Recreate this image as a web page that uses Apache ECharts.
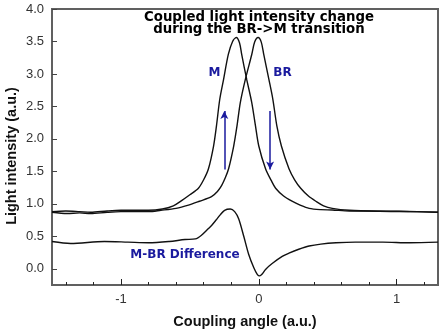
<!DOCTYPE html>
<html>
<head>
<meta charset="utf-8">
<script src="https://cdn.jsdelivr.net/npm/echarts@6/dist/echarts.min.js"></script>
<style>
  html, body { margin: 0; padding: 0; background: #fff; }
  #chart { width: 443px; height: 334px; }
</style>
</head>
<body>
<div id="chart"></div>
<script>
// Coupling curve of the M state (angle, light intensity)
const mAngle = [-1.5, -1.4, -1.3, -1.22, -1.1, -1.0, -0.9, -0.8, -0.7, -0.62, -0.56, -0.5, -0.438, -0.4, -0.365, -0.328, -0.307, -0.283, -0.255, -0.221, -0.19, -0.163, -0.14, -0.124, -0.088, -0.051, -0.024, 0.0, 0.049, 0.09, 0.122, 0.18, 0.241, 0.3, 0.365, 0.45, 0.533, 0.657, 0.8, 1.02, 1.15, 1.3];
const mIntensity = [0.88, 0.89, 0.88, 0.87, 0.89, 0.9, 0.9, 0.9, 0.92, 0.97, 1.05, 1.14, 1.24, 1.37, 1.54, 1.89, 2.2, 2.61, 2.92, 3.3, 3.5, 3.56, 3.48, 3.3, 2.92, 2.56, 2.2, 1.89, 1.54, 1.36, 1.24, 1.12, 1.04, 0.98, 0.93, 0.91, 0.905, 0.89, 0.89, 0.885, 0.88, 0.87];

// Coupling curve of the BR state
const brAngle = [-1.5, -1.39, -1.3, -1.22, -1.1, -1.0, -0.9, -0.8, -0.71, -0.6, -0.51, -0.43, -0.343, -0.3, -0.27, -0.243, -0.219, -0.182, -0.158, -0.134, -0.097, -0.051, -0.03, -0.005, 0.018, 0.036, 0.073, 0.102, 0.131, 0.164, 0.219, 0.26, 0.304, 0.36, 0.414, 0.47, 0.533, 0.657, 0.876, 1.1, 1.3];
const brIntensity = [0.87, 0.85, 0.86, 0.85, 0.87, 0.88, 0.88, 0.88, 0.9, 0.93, 0.98, 1.04, 1.11, 1.19, 1.28, 1.4, 1.54, 1.89, 2.2, 2.56, 2.92, 3.3, 3.49, 3.56, 3.49, 3.3, 2.92, 2.61, 2.2, 1.89, 1.54, 1.37, 1.24, 1.12, 1.04, 0.97, 0.93, 0.9, 0.885, 0.88, 0.87];

// M-BR difference trace (offset)
const diffAngle = [-1.5, -1.365, -1.12, -0.95, -0.8, -0.65, -0.535, -0.46, -0.414, -0.365, -0.341, -0.31, -0.28, -0.248, -0.207, -0.175, -0.146, -0.109, -0.073, -0.036, -0.01, 0.007, 0.025, 0.049, 0.097, 0.17, 0.219, 0.29, 0.365, 0.45, 0.56, 0.7, 0.9, 1.095, 1.3];
const diffValue = [0.42, 0.39, 0.42, 0.41, 0.4, 0.42, 0.45, 0.46, 0.52, 0.62, 0.67, 0.75, 0.83, 0.9, 0.92, 0.88, 0.77, 0.5, 0.22, 0.015, -0.09, -0.11, -0.08, -0.01, 0.08, 0.19, 0.24, 0.3, 0.35, 0.38, 0.4, 0.41, 0.41, 0.4, 0.41];

// Arrows showing the change direction [angle, intensity] start -> end
const arrowUp = [[-0.25, 1.53], [-0.25, 2.43]];
const arrowDown = [[0.082, 2.43], [0.082, 1.53]];

// Axis ticks
const xMajorTicks = [-1, 0, 1];
const xMinorTicks = [-1.4, -1.2, -0.8, -0.6, -0.4, -0.2, 0.2, 0.4, 0.6, 0.8, 1.2];
const yTicks = [0, 0.5, 1, 1.5, 2, 2.5, 3, 3.5, 4];

const pairs = (xs, ys) => xs.map((x, i) => [x, ys[i]]);

const lineColor = '#111';
const blue = '#1a1a9e';
const axisGray = '#606060';
const boldVerdana = 'bold 13.3px "DejaVu Sans"';

const chart = echarts.init(document.getElementById('chart'));

const baseX = {
  type: 'value', min: -1.5, max: 1.3, interval: 0.1,
  splitLine: { show: false }
};

chart.setOption({
  animation: false,
  backgroundColor: '#fff',
  grid: {
    left: 52, right: 5, top: 9, bottom: 47,
    show: true, borderColor: axisGray, borderWidth: 2, backgroundColor: 'transparent'
  },
  xAxis: [
    Object.assign({}, baseX, {
      position: 'bottom',
      axisLine: { show: true, onZero: false, lineStyle: { color: axisGray, width: 2 } },
      axisTick: { show: true, inside: true, length: 6, customValues: xMajorTicks, lineStyle: { color: '#222', width: 1 } },
      axisLabel: { show: true, customValues: xMajorTicks, margin: 8, color: '#333', fontFamily: 'Liberation Sans', fontSize: 13,
        formatter: v => String(Math.round(v)) },
      name: 'Coupling angle (a.u.)', nameLocation: 'middle', nameGap: 29,
      nameTextStyle: { fontFamily: 'Liberation Sans', fontWeight: 'bold', fontSize: 14.5, color: '#111' }
    }),
    Object.assign({}, baseX, {
      position: 'bottom',
      axisLine: { show: false, onZero: false },
      axisTick: { show: true, inside: true, length: 3, customValues: xMinorTicks, lineStyle: { color: '#222', width: 1 } },
      axisLabel: { show: false }
    })
  ],
  yAxis: {
    type: 'value', min: -0.25, max: 4.0,
    splitLine: { show: false },
    axisLine: { show: true, onZero: false, lineStyle: { color: axisGray, width: 2 } },
    axisTick: { show: true, inside: true, length: 5, customValues: yTicks, lineStyle: { color: '#444', width: 1 } },
    axisLabel: { customValues: yTicks, margin: 8, color: '#333', fontFamily: 'Liberation Sans', fontSize: 13,
      formatter: v => v.toFixed(1) }
  },
  series: [
    {
      name: 'M', type: 'line', data: pairs(mAngle, mIntensity), smooth: 0.3, showSymbol: false,
      lineStyle: { color: lineColor, width: 1.4 },
      markLine: {
        silent: true, symbol: ['none', 'arrow'], symbolSize: [6, 8],
        label: { show: false },
        lineStyle: { color: blue, width: 1.5, type: 'solid' },
        data: [
          [{ coord: arrowUp[0] }, { coord: arrowUp[1] }],
          [{ coord: arrowDown[0] }, { coord: arrowDown[1] }]
        ]
      }
    },
    {
      name: 'BR', type: 'line', data: pairs(brAngle, brIntensity), smooth: 0.3, showSymbol: false,
      lineStyle: { color: lineColor, width: 1.4 }
    },
    {
      name: 'M-BR Difference', type: 'line', data: pairs(diffAngle, diffValue), smooth: 0.3, showSymbol: false,
      lineStyle: { color: lineColor, width: 1.4 }
    }
  ],
  graphic: [
    { type: 'text', x: 12, y: 156, rotation: Math.PI / 2, style: { text: 'Light intensity (a.u.)', align: 'center', verticalAlign: 'middle',
        font: 'bold 14.5px "Liberation Sans"', fill: '#111' } },
    { type: 'text', x: 259, y: 18, style: { text: 'Coupled light intensity change', align: 'center', verticalAlign: 'middle',
        font: boldVerdana, fill: '#000' } },
    { type: 'text', x: 259, y: 30, style: { text: 'during the BR->M transition', align: 'center', verticalAlign: 'middle',
        font: boldVerdana, fill: '#000' } },
    { type: 'text', x: 214.5, y: 73, style: { text: 'M', align: 'center', verticalAlign: 'middle',
        font: 'bold 12px "DejaVu Sans"', fill: blue } },
    { type: 'text', x: 282.5, y: 73, style: { text: 'BR', align: 'center', verticalAlign: 'middle',
        font: 'bold 12px "DejaVu Sans"', fill: blue } },
    { type: 'text', x: 185, y: 255, style: { text: 'M-BR Difference', align: 'center', verticalAlign: 'middle',
        font: 'bold 12px "DejaVu Sans"', fill: blue } }
  ]
});
</script>
</body>
</html>
